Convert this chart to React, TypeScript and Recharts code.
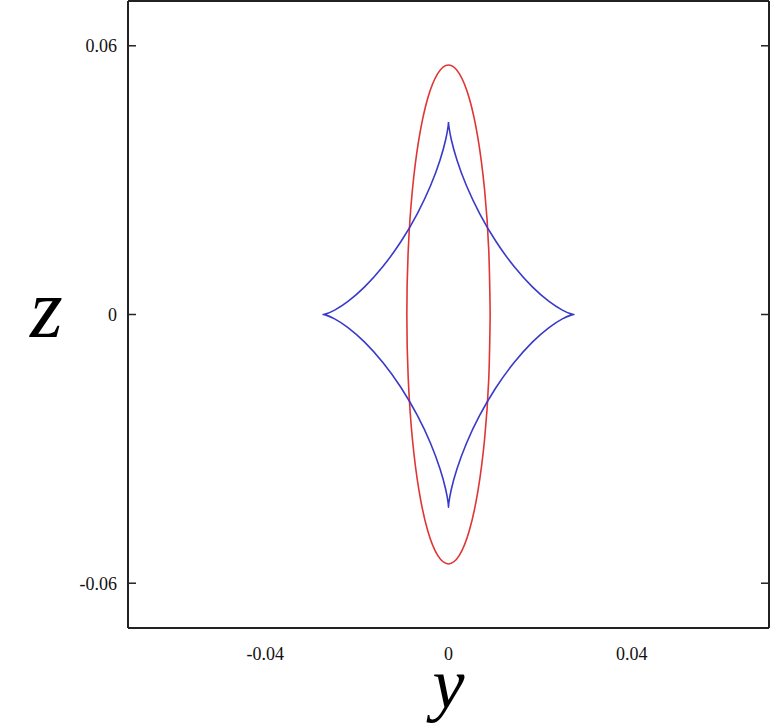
import { Label, Line, LineChart, XAxis, YAxis } from "recharts";

// red closed curve (every 15 degrees round the loop)
const ellipseY = [
  0.0091, 0.00879, 0.00788, 0.00643, 0.00455, 0.00236, 0, -0.00236, -0.00455,
  -0.00643, -0.00788, -0.00879, -0.0091, -0.00879, -0.00788, -0.00643, -0.00455,
  -0.00236, 0, 0.00236, 0.00455, 0.00643, 0.00788, 0.00879, 0.0091,
];
const ellipseZ = [
  0, 0.01442, 0.02785, 0.03939, 0.04824, 0.0538, 0.0557, 0.0538, 0.04824,
  0.03939, 0.02785, 0.01442, 0, -0.01442, -0.02785, -0.03939, -0.04824, -0.0538,
  -0.0557, -0.0538, -0.04824, -0.03939, -0.02785, -0.01442, 0,
];

// blue four-cusp curve, from the top cusp clockwise
const cuspY = [
  0, 0.00009, 0.00062, 0.00186, 0.00393, 0.00683, 0.01038, 0.01433, 0.01832,
  0.02195, 0.02487, 0.02675, 0.0274,
  0.02675, 0.02487, 0.02195, 0.01832, 0.01433, 0.01038, 0.00683, 0.00393,
  0.00186, 0.00062, 0.00009, 0,
  -0.00009, -0.00062, -0.00186, -0.00393, -0.00683, -0.01038, -0.01433,
  -0.01832, -0.02195, -0.02487, -0.02675, -0.0274,
  -0.02675, -0.02487, -0.02195, -0.01832, -0.01433, -0.01038, -0.00683,
  -0.00393, -0.00186, -0.00062, -0.00009, 0,
];
const cuspZ = [
  0.043, 0.04198, 0.03902, 0.03445, 0.02874, 0.02249, 0.01629, 0.01071,
  0.00617, 0.00292, 0.00098, 0.00014, 0,
  -0.00014, -0.00098, -0.00292, -0.00617, -0.01071, -0.01629, -0.02249,
  -0.02874, -0.03445, -0.03902, -0.04198, -0.043,
  -0.04198, -0.03902, -0.03445, -0.02874, -0.02249, -0.01629, -0.01071,
  -0.00617, -0.00292, -0.00098, -0.00014, 0,
  0.00014, 0.00098, 0.00292, 0.00617, 0.01071, 0.01629, 0.02249, 0.02874,
  0.03445, 0.03902, 0.04198, 0.043,
];

const yTicks = [-0.04, 0, 0.04];
const zTicks = [-0.06, 0, 0.06];
const domain = [-0.07, 0.07];

const ellipseData = ellipseY.map((y, i) => ({ y, z: ellipseZ[i] }));
const cuspData = cuspY.map((y, i) => ({ y, z: cuspZ[i] }));

const frame = "#222";
const serif = "Liberation Serif";
const tickFont = { fontSize: 18, fontFamily: serif, fill: "#111" };
const inwardTick = { stroke: frame, strokeWidth: 1.5 };
const noText = () => "";

export default function App() {
  return (
    <div style={{ position: "absolute", left: 0, top: 0, background: "#fff" }}>
      <LineChart
        width={771}
        height={724}
        margin={{ top: 1, right: 2, bottom: 0, left: 0 }}
      >
        {/* frame + inward ticks, declared first so they sit on the plot edges */}
        <XAxis
          xAxisId="bt"
          type="number"
          domain={domain}
          ticks={yTicks}
          orientation="bottom"
          mirror
          height={1}
          tickFormatter={noText}
          tickSize={8}
          tickLine={inwardTick}
          axisLine={false}
          allowDataOverflow
        />
        <XAxis
          xAxisId="top"
          type="number"
          domain={domain}
          ticks={yTicks}
          orientation="top"
          mirror
          height={1}
          tickFormatter={noText}
          tickSize={8}
          tickLine={inwardTick}
          axisLine={{ stroke: frame, strokeWidth: 2 }}
          allowDataOverflow
        />
        <YAxis
          yAxisId="lt"
          type="number"
          domain={domain}
          ticks={zTicks}
          orientation="left"
          mirror
          width={1}
          tickFormatter={noText}
          tickSize={8}
          tickLine={inwardTick}
          axisLine={false}
          allowDataOverflow
        />
        <YAxis
          yAxisId="right"
          type="number"
          domain={domain}
          ticks={zTicks}
          orientation="right"
          mirror
          width={1}
          tickFormatter={noText}
          tickSize={8}
          tickLine={inwardTick}
          axisLine={{ stroke: frame, strokeWidth: 2 }}
          allowDataOverflow
        />

        <XAxis
          dataKey="y"
          type="number"
          domain={domain}
          ticks={yTicks}
          tickFormatter={(v) => String(v)}
          height={96}
          tickSize={0}
          tickMargin={19}
          tickLine={false}
          tick={tickFont}
          fontSize={18}
          fontFamily={serif}
          axisLine={{ stroke: frame, strokeWidth: 2 }}
          allowDataOverflow
        >
          <Label
            value="y"
            position="insideBottom"
            offset={16}
            fontSize={72}
            fontFamily={serif}
            fontStyle="italic"
            fill="#000"
          />
        </XAxis>
        <YAxis
          dataKey="z"
          type="number"
          domain={domain}
          ticks={zTicks}
          tickFormatter={(v) => String(v)}
          width={128}
          tickSize={0}
          tickMargin={11}
          tickLine={false}
          tick={tickFont}
          fontSize={18}
          fontFamily={serif}
          axisLine={{ stroke: frame, strokeWidth: 2 }}
          allowDataOverflow
        >
          <Label
            value="z"
            position="insideLeft"
            offset={30}
            dy={-7}
            fontSize={84}
            fontFamily={serif}
            fontStyle="italic"
            fill="#000"
          />
        </YAxis>

        <Line
          data={ellipseData}
          dataKey="z"
          type="natural"
          stroke="#e03535"
          strokeWidth={1.6}
          dot={false}
          isAnimationActive={false}
        />
        <Line
          data={cuspData}
          dataKey="z"
          type="natural"
          stroke="#3a3ac8"
          strokeWidth={1.6}
          dot={false}
          isAnimationActive={false}
        />
      </LineChart>
    </div>
  );
}
